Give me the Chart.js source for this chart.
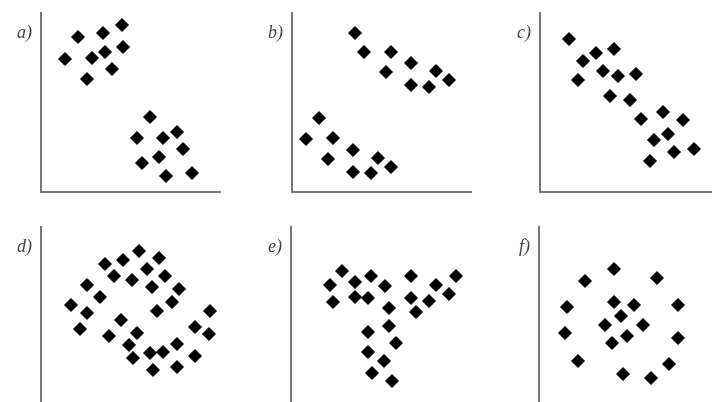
<!DOCTYPE html>
<html>
<head>
<meta charset="utf-8">
<script src="https://cdn.jsdelivr.net/npm/chart.js@4/dist/chart.umd.min.js"></script>
<style>
  html, body { margin:0; padding:0; background:#fff; overflow:hidden; }
  body { width:712px; height:402px; position:relative; }
  .panel { position:absolute; }
</style>
</head>
<body>
<div class="panel" id="pa"><canvas id="ca"></canvas></div>
<div class="panel" id="pb"><canvas id="cb"></canvas></div>
<div class="panel" id="pc"><canvas id="cc"></canvas></div>
<div class="panel" id="pd"><canvas id="cd"></canvas></div>
<div class="panel" id="pe"><canvas id="ce"></canvas></div>
<div class="panel" id="pf"><canvas id="cf"></canvas></div>
<script>
// panel labels
const labels = ['a)', 'b)', 'c)', 'd)', 'e)', 'f)'];

// point sets, x/y on a 0..180 scale from the axis origin
const pointsA = [[81,167],[37,155],[62,159],[82,145],[64,140],[24,133],[51,134],[71,123],[46,113],
  [109,75],[96,54],[122,54],[136,60],[142,43],[101,29],[118,35],[125,16],[151,19]];
const pointsB = [[63,159],[72,140],[99,140],[119,129],[94,120],[144,121],[157,112],[119,107],[137,105],
  [27,74],[14,53],[41,54],[61,42],[36,33],[86,34],[99,25],[61,20],[79,19]];
const pointsC = [[29,153],[43,131],[56,139],[74,143],[38,112],[63,121],[78,116],[96,118],[70,96],
  [90,92],[101,73],[123,80],[143,72],[114,52],[128,58],[134,40],[154,43],[110,31]];
const pointsD = [[98,155],[82,146],[118,148],[64,142],[106,137],[73,130],[91,126],[124,130],[46,121],
  [111,119],[138,117],[59,109],[131,104],[30,101],[46,93],[116,95],[169,95],[80,86],[39,77],[154,79],
  [168,72],[68,70],[96,73],[88,61],[136,62],[122,54],[109,53],[92,48],[154,50],[112,36],[136,39]];
const pointsE = [[51,135],[39,121],[64,124],[80,130],[94,120],[120,130],[145,121],[165,130],[42,104],
  [64,109],[77,108],[120,108],[138,105],[158,112],[98,98],[125,94],[98,80],[77,74],[105,63],[77,54],
  [93,45],[81,33],[101,25]];
const pointsF = [[75,137],[46,125],[118,128],[28,99],[75,104],[95,101],[139,101],[82,90],[66,81],
  [104,81],[26,73],[88,70],[73,63],[139,68],[39,45],[130,42],[84,32],[112,28]];

const sets = [pointsA, pointsB, pointsC, pointsD, pointsE, pointsF];
// axis origin (left, top of plot area) per panel
const origins = [[41,13],[292,13],[540,13],[41,227],[291,227],[539,227]];
const ids = ['a','b','c','d','e','f'];

const SIZE = 179, PL = 40, PT = 8, PR = 10, PB = 10;

const labelPlugin = {
  id: 'panelLabel',
  afterDraw(chart) {
    const {ctx, chartArea} = chart;
    ctx.save();
    ctx.font = 'italic 18px "Liberation Serif", "DejaVu Serif", serif';
    ctx.fillStyle = '#444';
    ctx.textAlign = 'right';
    ctx.textBaseline = 'alphabetic';
    ctx.fillText(chart.options.plugins.panelLabel.text, chartArea.left - 9, chartArea.top + 25);
    ctx.restore();
  }
};

sets.forEach((pts, i) => {
  const div = document.getElementById('p' + ids[i]);
  div.style.left = (origins[i][0] - PL) + 'px';
  div.style.top = (origins[i][1] - PT) + 'px';
  div.style.width = (SIZE + PL + PR) + 'px';
  div.style.height = (SIZE + PT + PB) + 'px';
  new Chart(document.getElementById('c' + ids[i]), {
    type: 'scatter',
    data: { datasets: [{
      data: pts.map(p => ({x: p[0], y: p[1]})),
      pointStyle: 'rectRot', pointRadius: 6.5, pointHoverRadius: 6.5,
      backgroundColor: '#000', borderColor: '#000', borderWidth: 1, clip: false
    }] },
    options: {
      responsive: true, maintainAspectRatio: false, animation: false,
      events: [],
      layout: { padding: {left: PL, top: PT, right: PR, bottom: PB} },
      plugins: { legend: {display: false}, tooltip: {enabled: false}, panelLabel: {text: labels[i]} },
      scales: {
        x: { type: 'linear', min: 0, max: SIZE,
             ticks: {display: false}, grid: {display: false, drawTicks: false},
             border: {display: true, color: '#777', width: 2} },
        y: { type: 'linear', min: 0, max: SIZE,
             ticks: {display: false}, grid: {display: false, drawTicks: false},
             border: {display: true, color: '#777', width: 2} }
      }
    },
    plugins: [labelPlugin]
  });
});
</script>
</body>
</html>
